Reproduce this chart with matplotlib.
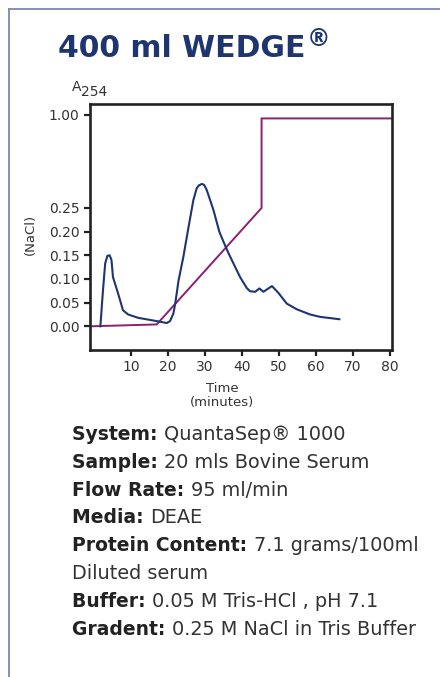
import numpy as np
import matplotlib
matplotlib.use("Agg")
import matplotlib.pyplot as plt
from matplotlib.ticker import FixedLocator, FixedFormatter

# ---- data ----
uv_time = [1.8, 2.5, 3.1, 3.7, 4.3, 4.8, 5.2, 6.6, 7.9, 9.3, 12.0, 17.0, 19.7, 20.6,
           21.5, 22.0, 22.9, 24.2, 25.6, 26.9, 27.8, 28.4, 29.2, 29.8, 30.5, 32.3,
           33.9, 35.0, 36.4, 37.7, 39.5, 41.3, 42.2, 43.6, 44.7, 45.8, 48.1, 49.8,
           52.1, 54.8, 58.4, 61.1, 66.3]
uv_abs = [0.000, 0.076, 0.133, 0.149, 0.150, 0.140, 0.104, 0.069, 0.034, 0.025, 0.018,
          0.011, 0.007, 0.011, 0.027, 0.048, 0.097, 0.147, 0.210, 0.314, 0.409, 0.432,
          0.443, 0.436, 0.395, 0.246, 0.200, 0.179, 0.154, 0.133, 0.104, 0.081, 0.074,
          0.073, 0.080, 0.073, 0.085, 0.071, 0.048, 0.036, 0.025, 0.020, 0.015]
nacl_time = [-1.0, 17.0, 45.3, 45.3, 80.5]
nacl_val = [0.0, 0.004, 0.25, 0.97, 0.97]

y_ticks = [0.00, 0.05, 0.10, 0.15, 0.20, 0.25, 1.00]
y_tick_labels = ["0.00", "0.05", "0.10", "0.15", "0.20", "0.25", "1.00"]
x_ticks = [10, 20, 30, 40, 50, 60, 70, 80]
x_tick_labels = ["10", "20", "30", "40", "50", "60", "70", "80"]

title = "400 ml WEDGE"
info_lines = [
    ("System:", "QuantaSep® 1000"),
    ("Sample:", "20 mls Bovine Serum"),
    ("Flow Rate:", "95 ml/min"),
    ("Media:", "DEAE"),
    ("Protein Content:", "7.1 grams/100ml"),
    ("", "Diluted serum"),
    ("Buffer:", "0.05 M Tris-HCl , pH 7.1"),
    ("Gradent:", "0.25 M NaCl in Tris Buffer"),
]

# ---- piecewise (broken) y scale ----
BRK = 0.25
K = 0.2627

def fwd(y):
    y = np.asarray(y, dtype=float)
    return np.where(y <= BRK, y, BRK + (y - BRK) * K)

def inv(u):
    u = np.asarray(u, dtype=float)
    return np.where(u <= BRK, u, BRK + (u - BRK) / K)

W, H = 440, 677
fig = plt.figure(figsize=(W / 100, H / 100), dpi=100)
fig.patch.set_facecolor("white")

def px(x, y):
    return x / W, 1 - y / H

# frame lines (top and left)
border = "#7d8aa8"
fig.add_artist(plt.Line2D([9 / W, 1.0], [1 - 9 / H, 1 - 9 / H], color=border, lw=1.3, transform=fig.transFigure))
fig.add_artist(plt.Line2D([9 / W, 9 / W], [1 - 9 / H, 0.0], color=border, lw=1.3, transform=fig.transFigure))

ax = fig.add_axes([90 / W, 1 - 350 / H, (392 - 90) / W, (350 - 104) / H])
ax.set_yscale("function", functions=(fwd, inv))
ax.plot(nacl_time, nacl_val, color="#8c1f6f", lw=1.4, solid_joinstyle="miter")
ax.plot(uv_time, uv_abs, color="#1e3572", lw=1.5)
ax.set_xlim(-1.0, 80.5)
ax.set_ylim(-0.05, 1.086)

ax.yaxis.set_major_locator(FixedLocator(y_ticks))
ax.yaxis.set_major_formatter(FixedFormatter(y_tick_labels))
ax.yaxis.set_minor_locator(FixedLocator([]))
ax.xaxis.set_major_locator(FixedLocator(x_ticks))
ax.xaxis.set_major_formatter(FixedFormatter(x_tick_labels))

for s in ax.spines.values():
    s.set_linewidth(1.9)
    s.set_color("#222222")
ax.tick_params(axis="both", direction="out", length=4.5, width=1.6, color="#222222",
               labelsize=10, labelcolor="#333333", pad=3)

tc = "#333333"
fig.text(*px(72, 91), "A", fontsize=10, color=tc, ha="left", va="baseline")
fig.text(*px(81, 96), "254", fontsize=10, color=tc, ha="left", va="baseline")
fig.text(*px(30, 234), "(NaCl)", fontsize=9.5, color=tc, ha="center", va="center", rotation=90)
fig.text(*px(222, 392), "Time", fontsize=9.5, color=tc, ha="center", va="baseline")
fig.text(*px(222, 406), "(minutes)", fontsize=9.5, color=tc, ha="center", va="baseline")

# title
navy = "#1f3570"
t = fig.text(*px(58, 57), title, fontsize=21.5, fontweight="bold", color=navy, ha="left", va="baseline")
fig.canvas.draw()
r = fig.canvas.get_renderer()
bb = t.get_window_extent(r)
fig.text((bb.x1 + 1) / W, 1 - 46 / H, "®", fontsize=17, fontweight="bold", color=navy,
         ha="left", va="baseline")

# info block
y0 = 440
dy = 27.8
fs_b = 13.5
fs_r = 13.9
for i, (lab, val) in enumerate(info_lines):
    yb = y0 + i * dy
    x = 72
    if lab:
        tl = fig.text(*px(x, yb), lab + " ", fontsize=fs_b, fontweight="bold", color="#222222",
                      ha="left", va="baseline")
        fig.canvas.draw()
        x = tl.get_window_extent(fig.canvas.get_renderer()).x1
        fig.text(x / W, 1 - yb / H, val, fontsize=fs_r, color="#333333", ha="left", va="baseline")
    else:
        fig.text(*px(x, yb), val, fontsize=fs_r, color="#333333", ha="left", va="baseline")

fig.savefig("out.png", dpi=100, facecolor="white")
